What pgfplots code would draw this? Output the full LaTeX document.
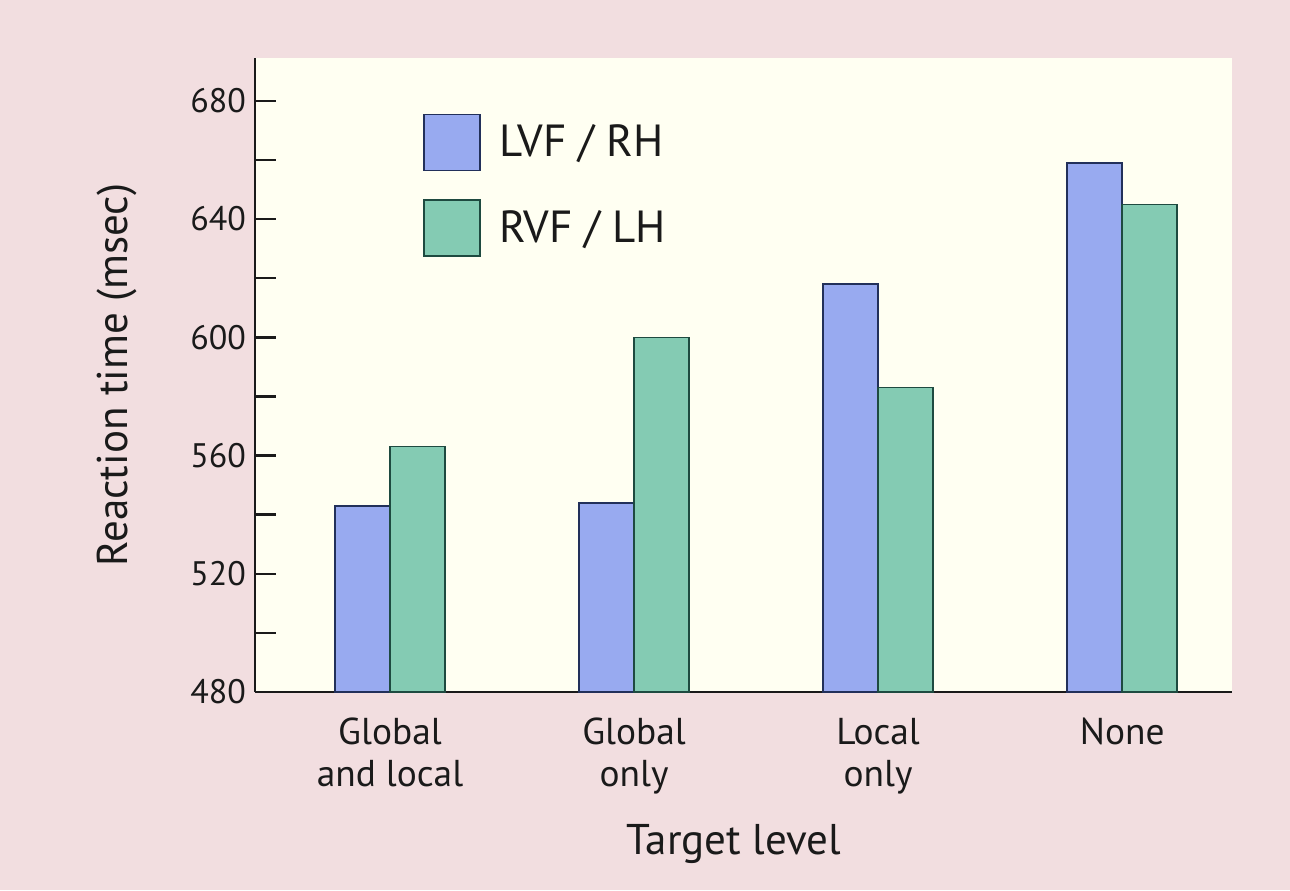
\documentclass[border=0pt]{standalone}
\usepackage{fontspec}
\setmainfont{PT Sans}
\usepackage{pgfplots}
\pgfplotsset{compat=1.18}
\definecolor{bgpink}{HTML}{F2DEE0}
\definecolor{cream}{HTML}{FFFFF2}
\definecolor{barblue}{HTML}{98AAF0}
\definecolor{bargreen}{HTML}{84CBB3}
\definecolor{edgeblue}{HTML}{22305A}
\definecolor{edgegreen}{HTML}{1E4A40}
\definecolor{txt}{HTML}{1A1A1A}
\begin{document}
\begin{tikzpicture}
\fill[bgpink] (0,0) rectangle (645pt,445pt);
\begin{axis}[
  at={(127.5pt,99pt)}, anchor=south west,
  scale only axis, width=488.5pt, height=317pt,
  axis background/.style={fill=cream},
  axis x line=bottom, axis y line=left,
  axis line style={line width=1.3pt, color=txt, -},
  xmin=-0.553, xmax=3.45,
  ymin=480, ymax=694.5,
  ytick={480,520,...,680},
  minor ytick={500,540,...,660},
  tick align=inside,
  major tick length=10.5pt, minor tick length=10.5pt,
  every tick/.style={line width=1.2pt, color=txt},
  xtick={0,1,2,3},
  xticklabels={Global\\and local, Global\\only, Local\\only, None},
  x tick style={draw=none},
  xticklabel style={align=center, font=\fontsize{18.7}{21}\selectfont, text=txt, yshift=1pt},
  yticklabel style={font=\fontsize{17}{21}\selectfont, text=txt, xshift=-1pt},
  /pgf/number format/assume math mode=true,
  xlabel={Target level}, ylabel={Reaction time (msec)},
  xlabel style={font=\fontsize{21.5}{24}\selectfont, text=txt, yshift=-8pt, xshift=-5pt},
  ylabel style={font=\fontsize{21.5}{24}\selectfont, text=txt, yshift=20pt},
  ybar=0pt, bar width=27.5pt,
  legend style={at={(rel axis cs:0.172,0.913)}, anchor=north west, draw=none, fill=none,
    font=\fontsize{22.5}{26}\selectfont, text=txt, row sep=14pt, inner sep=0pt},
  legend cell align=left,
  legend image code/.code={\draw[#1, line width=0.8pt] (0pt,-14pt) rectangle (28pt,14pt);},
]
\addplot[fill=barblue, draw=edgeblue, line width=0.8pt] coordinates {(0,543) (1,544) (2,618) (3,659)};
\addplot[fill=bargreen, draw=edgegreen, line width=0.8pt] coordinates {(0,563) (1,600) (2,583) (3,645)};
\legend{\hspace{7pt}LVF / RH, \hspace{7pt}RVF / LH}
\end{axis}
\pgfresetboundingbox
\useasboundingbox (0,0) rectangle (645pt,445pt);
\end{tikzpicture}
\end{document}
